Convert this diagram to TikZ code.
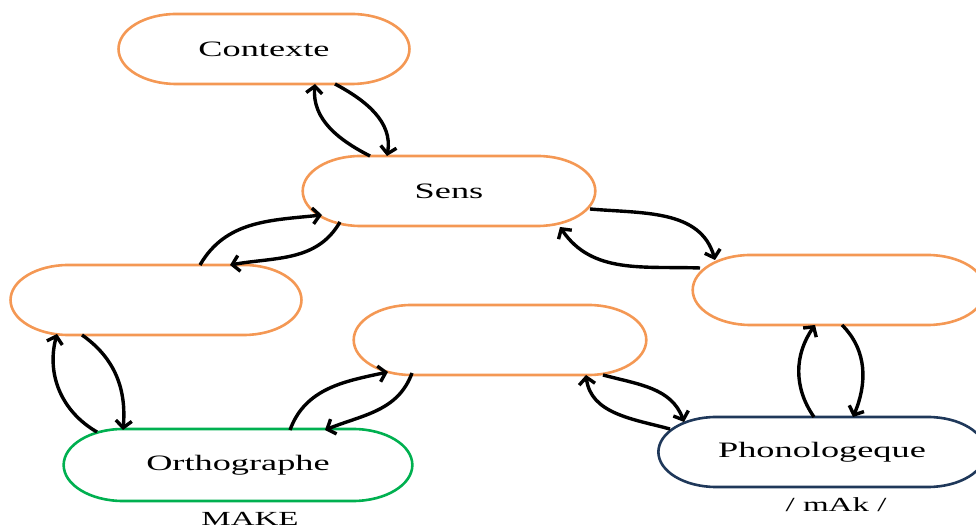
\documentclass[tikz,border=0pt]{standalone}
\usepackage{fontspec}
\setmainfont{Liberation Serif}
\usetikzlibrary{arrows.meta,shapes.misc}

\definecolor{orangebox}{RGB}{244,152,84}
\definecolor{greenbox}{RGB}{0,176,80}
\definecolor{navybox}{RGB}{31,56,90}

\begin{document}
\begin{tikzpicture}[x=1pt, y=1pt,
  box/.style={rounded rectangle, draw=orangebox, line width=2.6pt,
    minimum height=70pt, minimum width=183pt, xscale=1.65, font=\fontsize{22}{24}\selectfont},
  flow/.style={line width=3.4pt, -{Straight Barb[length=7pt, width=16pt]}},
  sub/.style={xscale=1.65, font=\fontsize{20}{22}\selectfont}]
  \useasboundingbox (0,0) rectangle (976,529);

  \node (contexte) [box] at (264, 480) {Contexte};
  \node (sens) [box, minimum width=184pt] at (449, 338) {Sens};
  \node (gauche) [box] at (156, 229) {};
  \node (milieu) [box, minimum width=184pt] at (500, 189) {};
  \node (droite) [box, minimum width=184pt] at (839, 239) {};
  \node (ortho) [box, draw=greenbox, minimum width=218pt, minimum height=72pt] at (238, 64) {Orthographe};
  \node (phono) [box, draw=navybox, minimum width=205pt] at (822, 77) {Phonologeque};
  \node (make) [sub] at (250, 10) {MAKE};
  \node (mak) [sub] at (836, 24) {/ mAk /};

  \draw[flow] ([shift={(-79,35)}]sens.center) to[out=153, in=-95] ([shift={(51,-35)}]contexte.center);
  \draw[flow] ([shift={(71,-35)}]contexte.center) to[out=-28, in=80] ([shift={(-62,35)}]sens.center);
  \draw[flow] ([shift={(44,35)}]gauche.center) to[out=60, in=186] ([shift={(-127,-24)}]sens.center);
  \draw[flow] ([shift={(-109,-31)}]sens.center) to[out=-120, in=10] ([shift={(74,35)}]gauche.center);
  \draw[flow] ([shift={(-74,-35)}]gauche.center) to[out=-35, in=85] ([shift={(-115,35)}]ortho.center);
  \draw[flow] ([shift={(-141,33)}]ortho.center) to[out=150, in=-105] ([shift={(-99,-34)}]gauche.center);
  \draw[flow] ([shift={(52,35)}]ortho.center) to[out=70, in=192] ([shift={(-112,-32)}]milieu.center);
  \draw[flow] ([shift={(-88,-33)}]milieu.center) to[out=-110, in=22] ([shift={(87,35)}]ortho.center);
  \draw[flow] ([shift={(-152,23)}]phono.center) to[out=165, in=-83] ([shift={(86,-35)}]milieu.center);
  \draw[flow] ([shift={(103,-35)}]milieu.center) to[out=-15, in=110] ([shift={(-138,30)}]phono.center);
  \draw[flow] ([shift={(141,-18)}]sens.center) to[out=-5, in=106] ([shift={(-124,30)}]droite.center);
  \draw[flow] ([shift={(-139,22)}]droite.center) to[out=178, in=-56] ([shift={(111,-36)}]sens.center);
  \draw[flow] ([shift={(-8,35)}]phono.center) to[out=125, in=-125] ([shift={(-24,-35)}]droite.center);
  \draw[flow] ([shift={(3,-35)}]droite.center) to[out=-45, in=67] ([shift={(31,35)}]phono.center);
\end{tikzpicture}
\end{document}
